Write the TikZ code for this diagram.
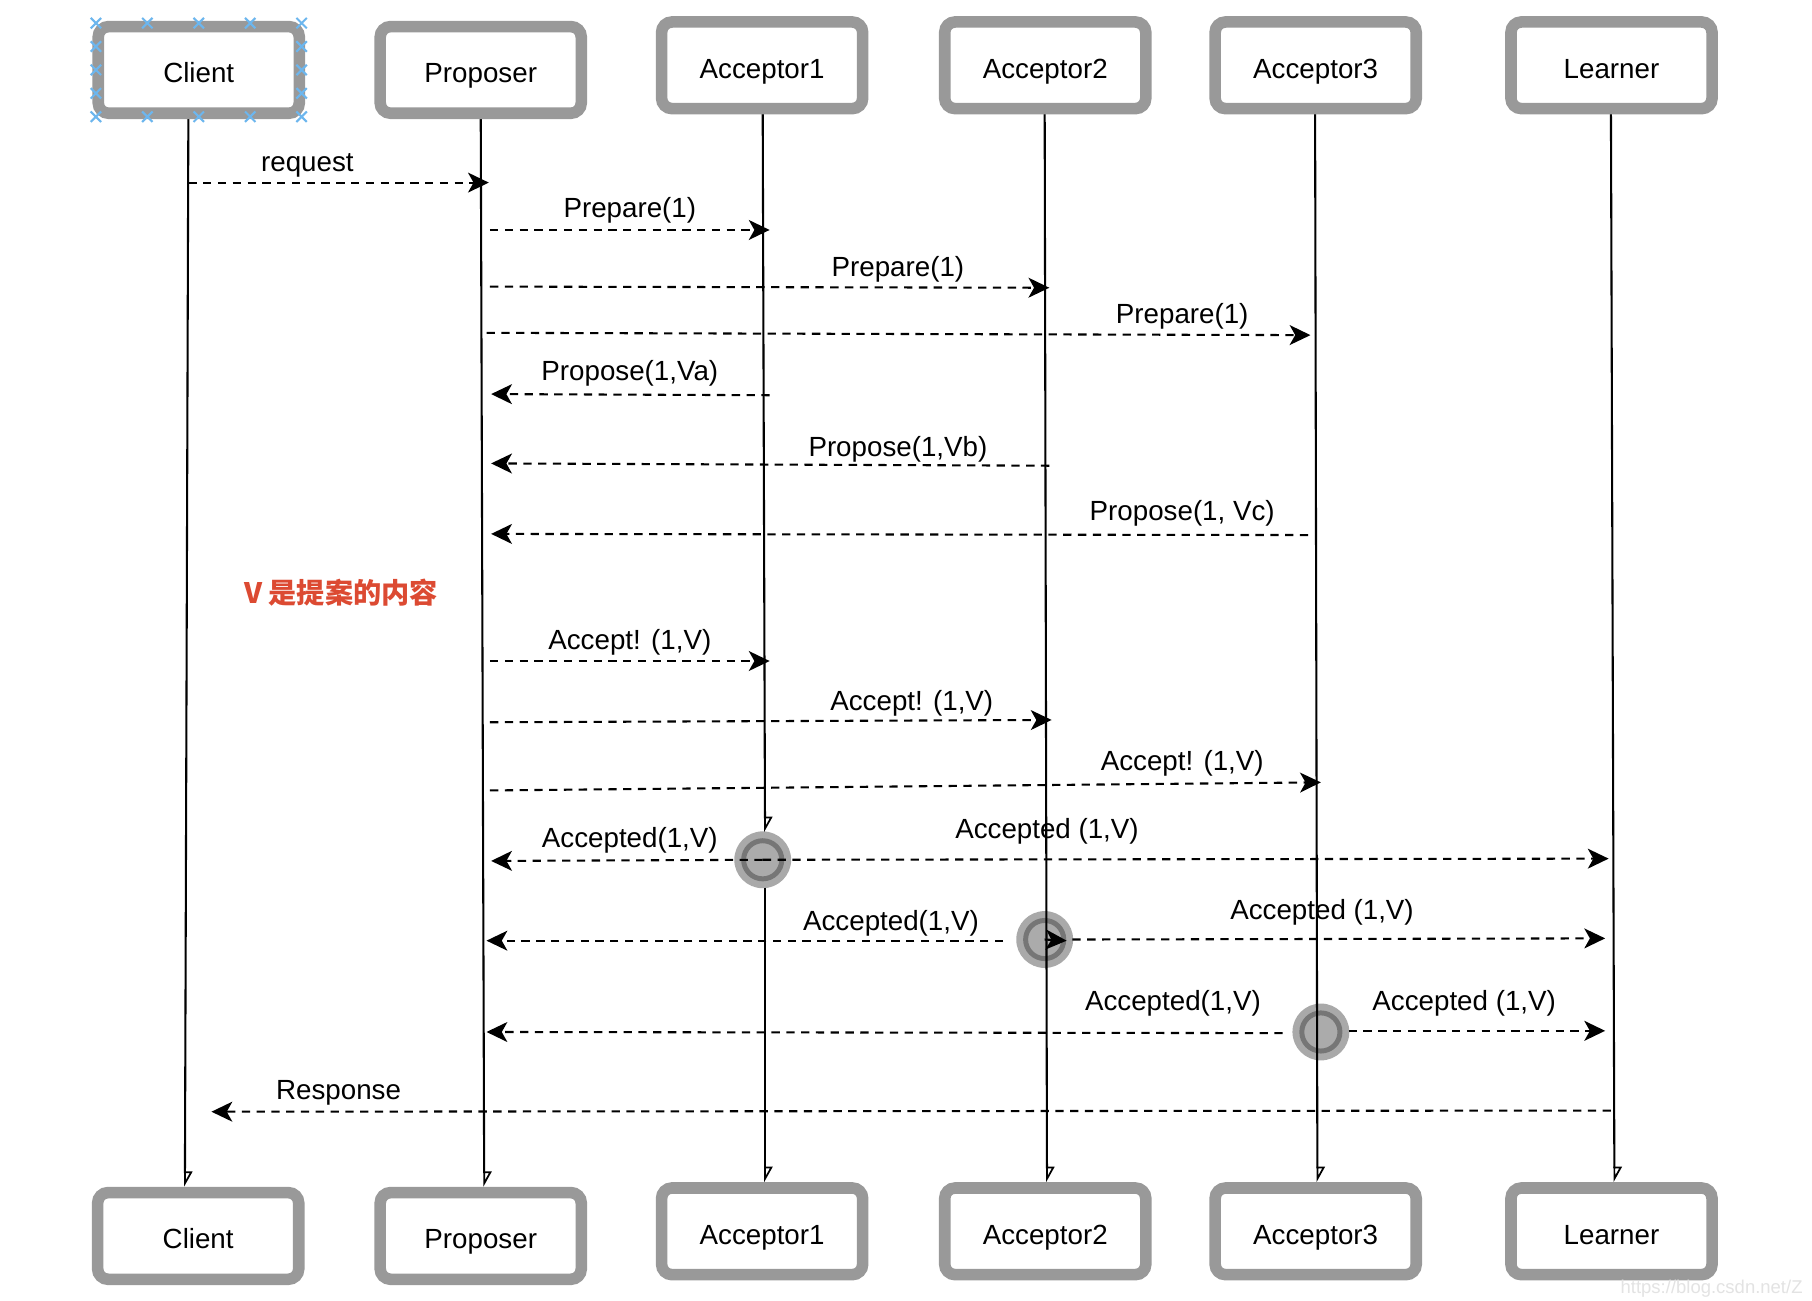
\documentclass[tikz,border=0pt]{standalone}
\usepackage{fontspec}
\setmainfont{Liberation Sans}
\newfontfamily\cjkfont{Noto Sans CJK SC}
\usetikzlibrary{arrows.meta}
\definecolor{boxgray}{HTML}{999999}
\definecolor{ringdark}{HTML}{767676}
\definecolor{ringfill}{HTML}{ABABAB}
\definecolor{halo}{HTML}{A0A0A0}
\definecolor{notered}{HTML}{DC4A32}
\definecolor{selblue}{HTML}{6CB6EE}
\definecolor{wmgray}{HTML}{E3E3E3}

\begin{document}
\begin{tikzpicture}[x=0.5pt,y=-0.5pt,
  actor/.style={draw=boxgray, line width=5pt, rounded corners=4.5pt, fill=white,
    minimum width=87pt, minimum height=37.5pt, inner sep=0pt,
    font=\fontsize{12}{14}\selectfont, text height=13.6pt, text depth=2.5pt},
  life/.style={line width=0.9pt,
    -{Triangle[open,left,length=6pt,width=6.5pt,line width=0.75pt]}},
  msg/.style={line width=0.9pt, dash pattern=on 3.6pt off 2.8pt,
    -{Stealth[length=9pt,width=8.6pt,inset=2.4pt]}},
  lbl/.style={font=\fontsize{12}{14}\selectfont, inner sep=0pt,
    text height=11.1pt, text depth=2.5pt},
  ring/.style={circle, draw=ringdark, fill=ringfill, line width=2.15pt,
    minimum size=16.5pt, inner sep=0pt},
  selmark/.style={draw=selblue, line width=0.9pt}
]
% canvas
\fill[white] (0,0) rectangle (1568,1125);
\useasboundingbox (0,0) rectangle (1568,1125);

% ---------- decision points on the acceptor lifelines ----------
\coordinate (k1) at (660,744);
\coordinate (k2) at (904,813);
\coordinate (k3) at (1143,893);
\foreach \k in {k1,k2,k3}{\fill[halo,opacity=0.9] (\k) circle[radius=12.3pt];}
\node[ring] (r1) at (k1) {};
\node[ring] (r2) at (k2) {};
\node[ring] (r3) at (k3) {};

% ---------- lifeline end points ----------
\coordinate (lc1) at (163,101);  \coordinate (lc2) at (160,1027);
\coordinate (lp1) at (416,101);  \coordinate (lp2) at (419,1027);
\coordinate (la1) at (660,97);   \coordinate (la1m) at (662,720);
\coordinate (la1n) at (662,768); \coordinate (la2) at (662,1023);
\coordinate (lb1) at (904,97);   \coordinate (lb2) at (906,1023);
\coordinate (ld1) at (1138,97);  \coordinate (ld2) at (1140,1023);
\coordinate (ll1) at (1394,97);  \coordinate (ll2) at (1397,1023);

\draw[life] (lc1) -- (lc2);
\draw[life] (lp1) -- (lp2);
\draw[life] (la1) -- (la1m);
\draw[life] (la1n) -- (la2);
\draw[life] (lb1) -- (lb2);
\draw[life] (ld1) -- (ld2);
\draw[life] (ll1) -- (ll2);

% ---------- message end points ----------
\coordinate (m1s) at (163,158);   \coordinate (m1e) at (423,158);
\coordinate (m2s) at (424,199);   \coordinate (m2e) at (666,199);
\coordinate (m3s) at (424,248);   \coordinate (m3e) at (908,249);
\coordinate (m4s) at (421,288);   \coordinate (m4e) at (1134,290);
\coordinate (m5s) at (666,342);   \coordinate (m5e) at (425,341);
\coordinate (m6s) at (908,403);   \coordinate (m6e) at (425,401);
\coordinate (m7s) at (1132,463);  \coordinate (m7e) at (425,462);
\coordinate (m9s) at (424,572);   \coordinate (m9e) at (666,572);
\coordinate (m10s) at (424,625);  \coordinate (m10e) at (910,623);
\coordinate (m11s) at (424,684);  \coordinate (m11e) at (1143,677);
\coordinate (m12e) at (425,745);
\coordinate (m13e) at (1392,743);
\coordinate (m14s) at (868,814);  \coordinate (m14e) at (421,814);
\coordinate (m15s) at (928,813);  \coordinate (m15e) at (1389,812);
\coordinate (m16s) at (1110,894); \coordinate (m16e) at (421,893);
\coordinate (m17s) at (1167,892); \coordinate (m17e) at (1389,892);
\coordinate (m18s) at (1394,961); \coordinate (m18e) at (183,962);
\coordinate (k2tip) at (923,814);

\draw[msg] (m1s) -- (m1e);
\draw[msg] (m2s) -- (m2e);
\draw[msg] (m3s) -- (m3e);
\draw[msg] (m4s) -- (m4e);
\draw[msg] (m5s) -- (m5e);
\draw[msg] (m6s) -- (m6e);
\draw[msg] (m7s) -- (m7e);
\draw[msg] (m9s) -- (m9e);
\draw[msg] (m10s) -- (m10e);
\draw[msg] (m11s) -- (m11e);
\draw[msg] (k1) -- (m12e);
\draw[msg] (k1) -- (m13e);
\draw[msg] (m14s) -- (m14e);
\draw[msg] (m15s) -- (m15e);
\draw[msg] (m16s) -- (m16e);
\draw[msg] (m17s) -- (m17e);
\draw[msg] (m18s) -- (m18e);
\draw[line width=0.9pt, -{Stealth[length=9pt,width=8.6pt,inset=2.4pt]}] (k2) -- (k2tip);

% ---------- message labels ----------
\node[lbl] (t1)  at (266,140) {request};
\node[lbl] (t2)  at (545,180) {Prepare(1)};
\node[lbl] (t3)  at (777,231) {Prepare(1)};
\node[lbl] (t4)  at (1023,271) {Prepare(1)};
\node[lbl] (t5)  at (545,321) {Propose(1,Va)};
\node[lbl] (t6)  at (777,386) {Propose(1,Vb)};
\node[lbl] (t7)  at (1023,442) {Propose(1, Vc)};
\node[lbl] (t9)  at (545,553) {Accept! (1,V)};
\node[lbl] (t10) at (789,606) {Accept! (1,V)};
\node[lbl] (t11) at (1023,658) {Accept! (1,V)};
\node[lbl] (t12) at (545,725) {Accepted(1,V)};
\node[lbl] (t13) at (906,717) {Accepted (1,V)};
\node[lbl] (t14) at (771,797) {Accepted(1,V)};
\node[lbl] (t15) at (1144,787) {Accepted (1,V)};
\node[lbl] (t16) at (1015,866) {Accepted(1,V)};
\node[lbl] (t17) at (1267,866) {Accepted (1,V)};
\node[lbl] (t18) at (293,943) {Response};

% note
\node[inner sep=0pt, text=notered, font=\cjkfont\bfseries\fontsize{12.2}{14}\selectfont]
  (note) at (295,513) {V 是提案的内容};

% ---------- participants ----------
\node[actor] (ct) at (172,60.5)   {Client};
\node[actor] (pt) at (416,60.5)   {Proposer};
\node[actor] (at1) at (659.5,56.5) {Acceptor1};
\node[actor] (at2) at (904.5,56.5) {Acceptor2};
\node[actor] (at3) at (1138.5,56.5) {Acceptor3};
\node[actor] (lt) at (1394.5,56.5) {Learner};

\node[actor] (cb) at (171.5,1069.5)  {Client};
\node[actor] (pb) at (416,1069.5)    {Proposer};
\node[actor] (ab1) at (659.5,1065.5) {Acceptor1};
\node[actor] (ab2) at (904.5,1065.5) {Acceptor2};
\node[actor] (ab3) at (1138.5,1065.5) {Acceptor3};
\node[actor] (lb) at (1394.5,1065.5) {Learner};

% selection handles on the top Client box
\foreach \x in {83,127.5,172,216.5,261}{
  \foreach \y in {20,101}{
    \draw[selmark] (\x-4.5,\y-4.5) -- (\x+4.5,\y+4.5) (\x-4.5,\y+4.5) -- (\x+4.5,\y-4.5);}}
\foreach \y in {40.25,60.5,80.75}{
  \foreach \x in {83,261}{
    \draw[selmark] (\x-4.5,\y-4.5) -- (\x+4.5,\y+4.5) (\x-4.5,\y+4.5) -- (\x+4.5,\y-4.5);}}

% faint source mark in the lower right corner
\node[anchor=base west, inner sep=0pt, text=wmgray, font=\fontsize{8}{9}\selectfont]
  (wm) at (1402,1119) {https://blog.csdn.net/Z};
\end{tikzpicture}
\end{document}
